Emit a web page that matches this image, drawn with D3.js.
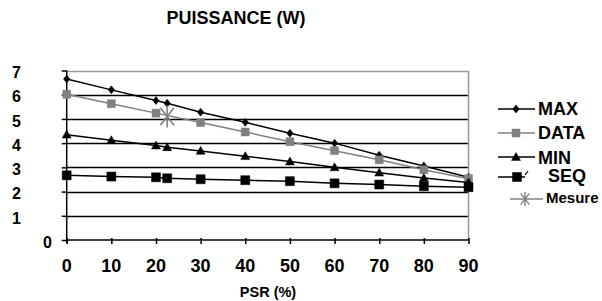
<!DOCTYPE html>
<html>
<head>
<meta charset="utf-8">
<script src="https://cdn.jsdelivr.net/npm/d3@7"></script>
<style>
  html, body { margin: 0; padding: 0; background: #fff; }
  text { font-family: "Liberation Sans", Arial, sans-serif; font-weight: bold; fill: #000; }
</style>
</head>
<body>
<div id="chart"></div>
<script>
// 数据 - PSR (%) vs puissance (W)
const psrValues = [0, 10, 20, 22.5, 30, 40, 50, 60, 70, 80, 90];
const maxValues = [6.65, 6.2, 5.76, 5.65, 5.28, 4.86, 4.41, 4.0, 3.5, 3.06, 2.59];
const minValues = [4.35, 4.12, 3.9, 3.83, 3.68, 3.46, 3.24, 3.0, 2.78, 2.56, 2.37];
const seqValues = [2.67, 2.62, 2.59, 2.55, 2.51, 2.47, 2.43, 2.34, 2.29, 2.22, 2.18];
const dataPsr = [0, 10, 20, 30, 40, 50, 60, 70, 80, 90];
const dataValues = [6.02, 5.63, 5.24, 4.85, 4.46, 4.06, 3.69, 3.31, 2.9, 2.53];
const mesurePsr = [22.5];
const mesureValues = [5.1];
const xTicks = [0, 10, 20, 30, 40, 50, 60, 70, 80, 90];
const yTicks = [0, 1, 2, 3, 4, 5, 6, 7];

const width = 602, height = 301;

const svg = d3.select('#chart')
    .append('svg')
    .attr('width', width)
    .attr('height', height);

const x = d3.scaleLinear().domain([0, 90]).range([66.7, 468.5]);
const y = d3.scaleLinear().domain([0, 7]).range([240, 70.5]);

// 标题
svg.append('text')
    .attr('x', 236)
    .attr('y', 24)
    .attr('text-anchor', 'middle')
    .attr('font-size', '18px')
    .text('PUISSANCE (W)');

// 网格线 (1..6 黑色)
svg.append('g')
    .selectAll('line')
    .data(yTicks.filter(d => d > 0 && d < 7))
    .join('line')
    .attr('x1', x(0)).attr('x2', x(90))
    .attr('y1', d => Math.round(y(d)) + 0.5)
    .attr('y2', d => Math.round(y(d)) + 0.5)
    .attr('stroke', '#000')
    .attr('stroke-width', 1.3);

// 外框 (上、右 灰色)
svg.append('path')
    .attr('d', `M${x(0)},${Math.round(y(7)) + 0.5}H${x(90)}V${y(0)}`)
    .attr('fill', 'none')
    .attr('stroke', '#999')
    .attr('stroke-width', 1.5);

// Y轴
const yAxis = svg.append('g')
    .attr('transform', `translate(${x(0)},0)`)
    .call(d3.axisLeft(y).tickValues(yTicks).tickSize(5).tickFormat(''));
yAxis.select('.domain').attr('stroke', '#000').attr('stroke-width', 1.5)
    .attr('d', `M0,${y(7)}V${y(0) + 3}`);
yAxis.selectAll('.tick line').attr('stroke', '#000').attr('stroke-width', 1.5);

// Y轴标签 (1..7 偏左, 0 靠近轴)
svg.append('g')
    .selectAll('text')
    .data(yTicks)
    .join('text')
    .attr('x', d => d === 0 ? 52 : 21)
    .attr('y', d => y(d) + 2)
    .attr('dy', '0.36em')
    .attr('text-anchor', 'end')
    .attr('font-size', '16px')
    .text(d => d);

// X轴
const xAxis = svg.append('g')
    .attr('transform', `translate(0,${y(0)})`)
    .call(d3.axisBottom(x).tickValues(xTicks).tickSize(4).tickFormat(''));
xAxis.select('.domain').attr('stroke', '#000').attr('stroke-width', 1.5)
    .attr('d', `M${x(0)},0H${x(90)}`);
xAxis.selectAll('.tick line').attr('stroke', '#000').attr('stroke-width', 1.5)
    .attr('y1', -2).attr('y2', 4);

svg.append('g')
    .selectAll('text')
    .data(xTicks)
    .join('text')
    .attr('x', d => x(d))
    .attr('y', 272)
    .attr('text-anchor', 'middle')
    .attr('font-size', '18px')
    .text(d => d);

svg.append('text')
    .attr('x', 268)
    .attr('y', 297)
    .attr('text-anchor', 'middle')
    .attr('font-size', '14.5px')
    .text('PSR (%)');

// 标记形状
function diamond(s) { return `M0,${-s}L${s * 0.8},0L0,${s}L${-s * 0.8},0Z`; }
function square(s) { return `M${-s},${-s}H${s}V${s}H${-s}Z`; }
function triangle(s) { return `M0,${-s}L${s},${s * 0.75}H${-s}Z`; }
function star(s) {
    const d = s * 0.62;
    return `M0,${-s}V${s}M${-d},${-s * 0.8}L${d},${s * 0.8}M${d},${-s * 0.8}L${-d},${s * 0.8}`;
}

const series = [
    { name: 'MAX', xs: psrValues, ys: maxValues, color: '#000', shape: diamond(4), fill: true },
    { name: 'DATA', xs: dataPsr, ys: dataValues, color: '#808080', shape: square(4), fill: true },
    { name: 'MIN', xs: psrValues, ys: minValues, color: '#000', shape: triangle(4.5), fill: true },
    { name: 'SEQ', xs: psrValues, ys: seqValues, color: '#000', shape: square(4.5), fill: true },
    { name: 'Mesure', xs: mesurePsr, ys: mesureValues, color: '#808080', shape: star(11), fill: false }
];

const line = d3.line().x(d => x(d[0])).y(d => y(d[1]));

// 绘制曲线和标记
series.forEach(s => {
    const pts = s.xs.map((v, i) => [v, s.ys[i]]);
    const g = svg.append('g');
    if (pts.length > 1) {
        g.append('path')
            .attr('d', line(pts))
            .attr('fill', 'none')
            .attr('stroke', s.color)
            .attr('stroke-width', 1.5);
    }
    g.selectAll('path.marker')
        .data(pts)
        .join('path')
        .attr('class', 'marker')
        .attr('transform', d => `translate(${x(d[0])},${y(d[1])})`)
        .attr('d', s.shape)
        .attr('fill', s.fill ? s.color : 'none')
        .attr('stroke', s.color)
        .attr('stroke-width', s.fill ? 0.5 : 1.6);
});

// 图例
const legendItems = [
    { name: 'MAX', y: 109, x1: 498, x2: 535, mx: 516, tx: 538, size: '18px', base: 115 },
    { name: 'DATA', y: 133, x1: 498, x2: 535, mx: 516, tx: 538, size: '18px', base: 139 },
    { name: 'MIN', y: 157, x1: 498, x2: 535, mx: 516, tx: 538, size: '18px', base: 164 },
    { name: 'SEQ', y: 177, x1: 498, x2: 525, mx: 517, tx: 548, size: '18px', base: 182 },
    { name: 'Mesure', y: 199, x1: 510, x2: 543, mx: 525, tx: 546, size: '15px', base: 203 }
];

legendItems.forEach((item, i) => {
    const s = series[i];
    const g = svg.append('g');
    g.append('line')
        .attr('x1', item.x1).attr('x2', item.x2)
        .attr('y1', item.y).attr('y2', item.y)
        .attr('stroke', s.color)
        .attr('stroke-width', 1.5);
    g.append('path')
        .attr('transform', `translate(${item.mx},${item.y})`)
        .attr('d', s.name === 'Mesure' ? star(7) : s.shape)
        .attr('fill', s.fill ? s.color : 'none')
        .attr('stroke', s.color)
        .attr('stroke-width', s.fill ? 0.5 : 1.4);
    g.append('text')
        .attr('x', item.tx)
        .attr('y', item.base)
        .attr('font-size', item.size)
        .text(item.name);
});

// SEQ 图例旁的小撇
svg.append('line')
    .attr('x1', 525).attr('y1', 175)
    .attr('x2', 528).attr('y2', 171)
    .attr('stroke', '#000')
    .attr('stroke-width', 1.2);
</script>
</body>
</html>
